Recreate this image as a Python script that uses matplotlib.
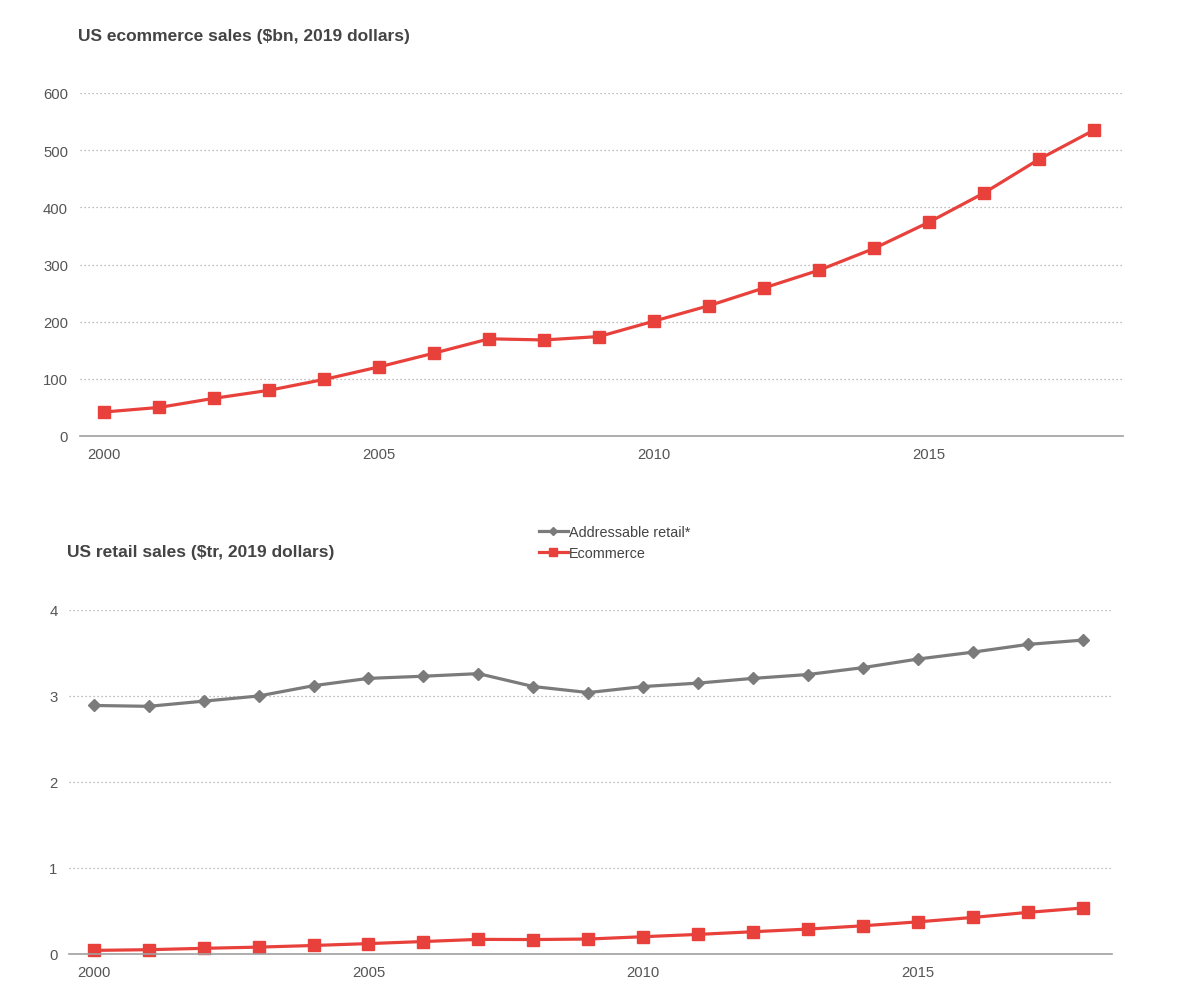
import numpy as np
import matplotlib
matplotlib.use("Agg")
import matplotlib.pyplot as plt

years = list(range(2000, 2019))
ecommerce_bn = [42, 50, 66, 80, 99, 121, 145, 170, 168, 174,
                201, 228, 259, 290, 328, 374, 425, 484, 535]
addressable_tr = [2.89, 2.88, 2.94, 3.00, 3.12, 3.205, 3.23, 3.26, 3.11, 3.04,
                  3.11, 3.15, 3.205, 3.25, 3.33, 3.43, 3.51, 3.60, 3.65]
ecommerce_tr = [v / 1000 for v in ecommerce_bn]

top_title = "US ecommerce sales ($bn, 2019 dollars)"
bottom_title = "US retail sales ($tr, 2019 dollars)"
legend_labels = ["Addressable retail*", "Ecommerce"]

red = "#e8413c"
grey = "#7b7b7b"
text_col = "#444444"

plt.rcParams['font.family'] = ['Liberation Sans', 'DejaVu Sans']

W, H = 1200, 1003
fig = plt.figure(figsize=(W / 100, H / 100), dpi=100)


def px_axes(left, right, top, bottom):
    return fig.add_axes([left / W, 1 - bottom / H, (right - left) / W, (bottom - top) / H])


def style(ax, ymax, yticks):
    ax.set_xlim(1999.55, 2018.53)
    ax.set_ylim(0, ymax)
    ax.set_yticks(yticks)
    ax.set_xticks([2000, 2005, 2010, 2015])
    for s in ['top', 'right', 'left']:
        ax.spines[s].set_visible(False)
    ax.spines['bottom'].set_color('#a0a0a0')
    ax.spines['bottom'].set_linewidth(1.2)
    ax.tick_params(length=0, labelsize=10.7, colors='#555555')
    ax.tick_params(axis='y', pad=8.3)
    ax.tick_params(axis='x', pad=7.7)
    for y in yticks[1:]:
        ax.axhline(y, color='#a8a8a8', lw=0.9, ls=(0, (1, 2.2)), zorder=0)
    ax.set_facecolor('none')


# top chart
ax1 = px_axes(79.6, 1123, 94, 437)
ax1.plot(years, ecommerce_bn, color=red, lw=2.3, marker='s', ms=8.3, clip_on=False)
style(ax1, 600, [0, 100, 200, 300, 400, 500, 600])
fig.text(78 / W, 1 - 36 / H, top_title, fontsize=12.5, fontweight='bold',
         color=text_col, va='center', ha='left')

# bottom chart
ax2 = px_axes(69, 1112, 611, 955)
l1, = ax2.plot(years, addressable_tr, color=grey, lw=2.3, marker='D', ms=6.5, clip_on=False)
l2, = ax2.plot(years, ecommerce_tr, color=red, lw=2.3, marker='s', ms=8.3, clip_on=False)
style(ax2, 4, [0, 1, 2, 3, 4])
fig.text(67 / W, 1 - 553 / H, bottom_title, fontsize=12.5, fontweight='bold',
         color=text_col, va='center', ha='left')

leg = fig.legend([l1, l2], legend_labels, loc='center left',
                 bbox_to_anchor=(539 / W, 1 - 543.5 / H), frameon=False,
                 fontsize=10.4, handlelength=2.0, handletextpad=0.1,
                 borderpad=0, borderaxespad=0, labelspacing=0.45, markerscale=0.7)
for t in leg.get_texts():
    t.set_color(text_col)

fig.savefig("out.png", dpi=100)
